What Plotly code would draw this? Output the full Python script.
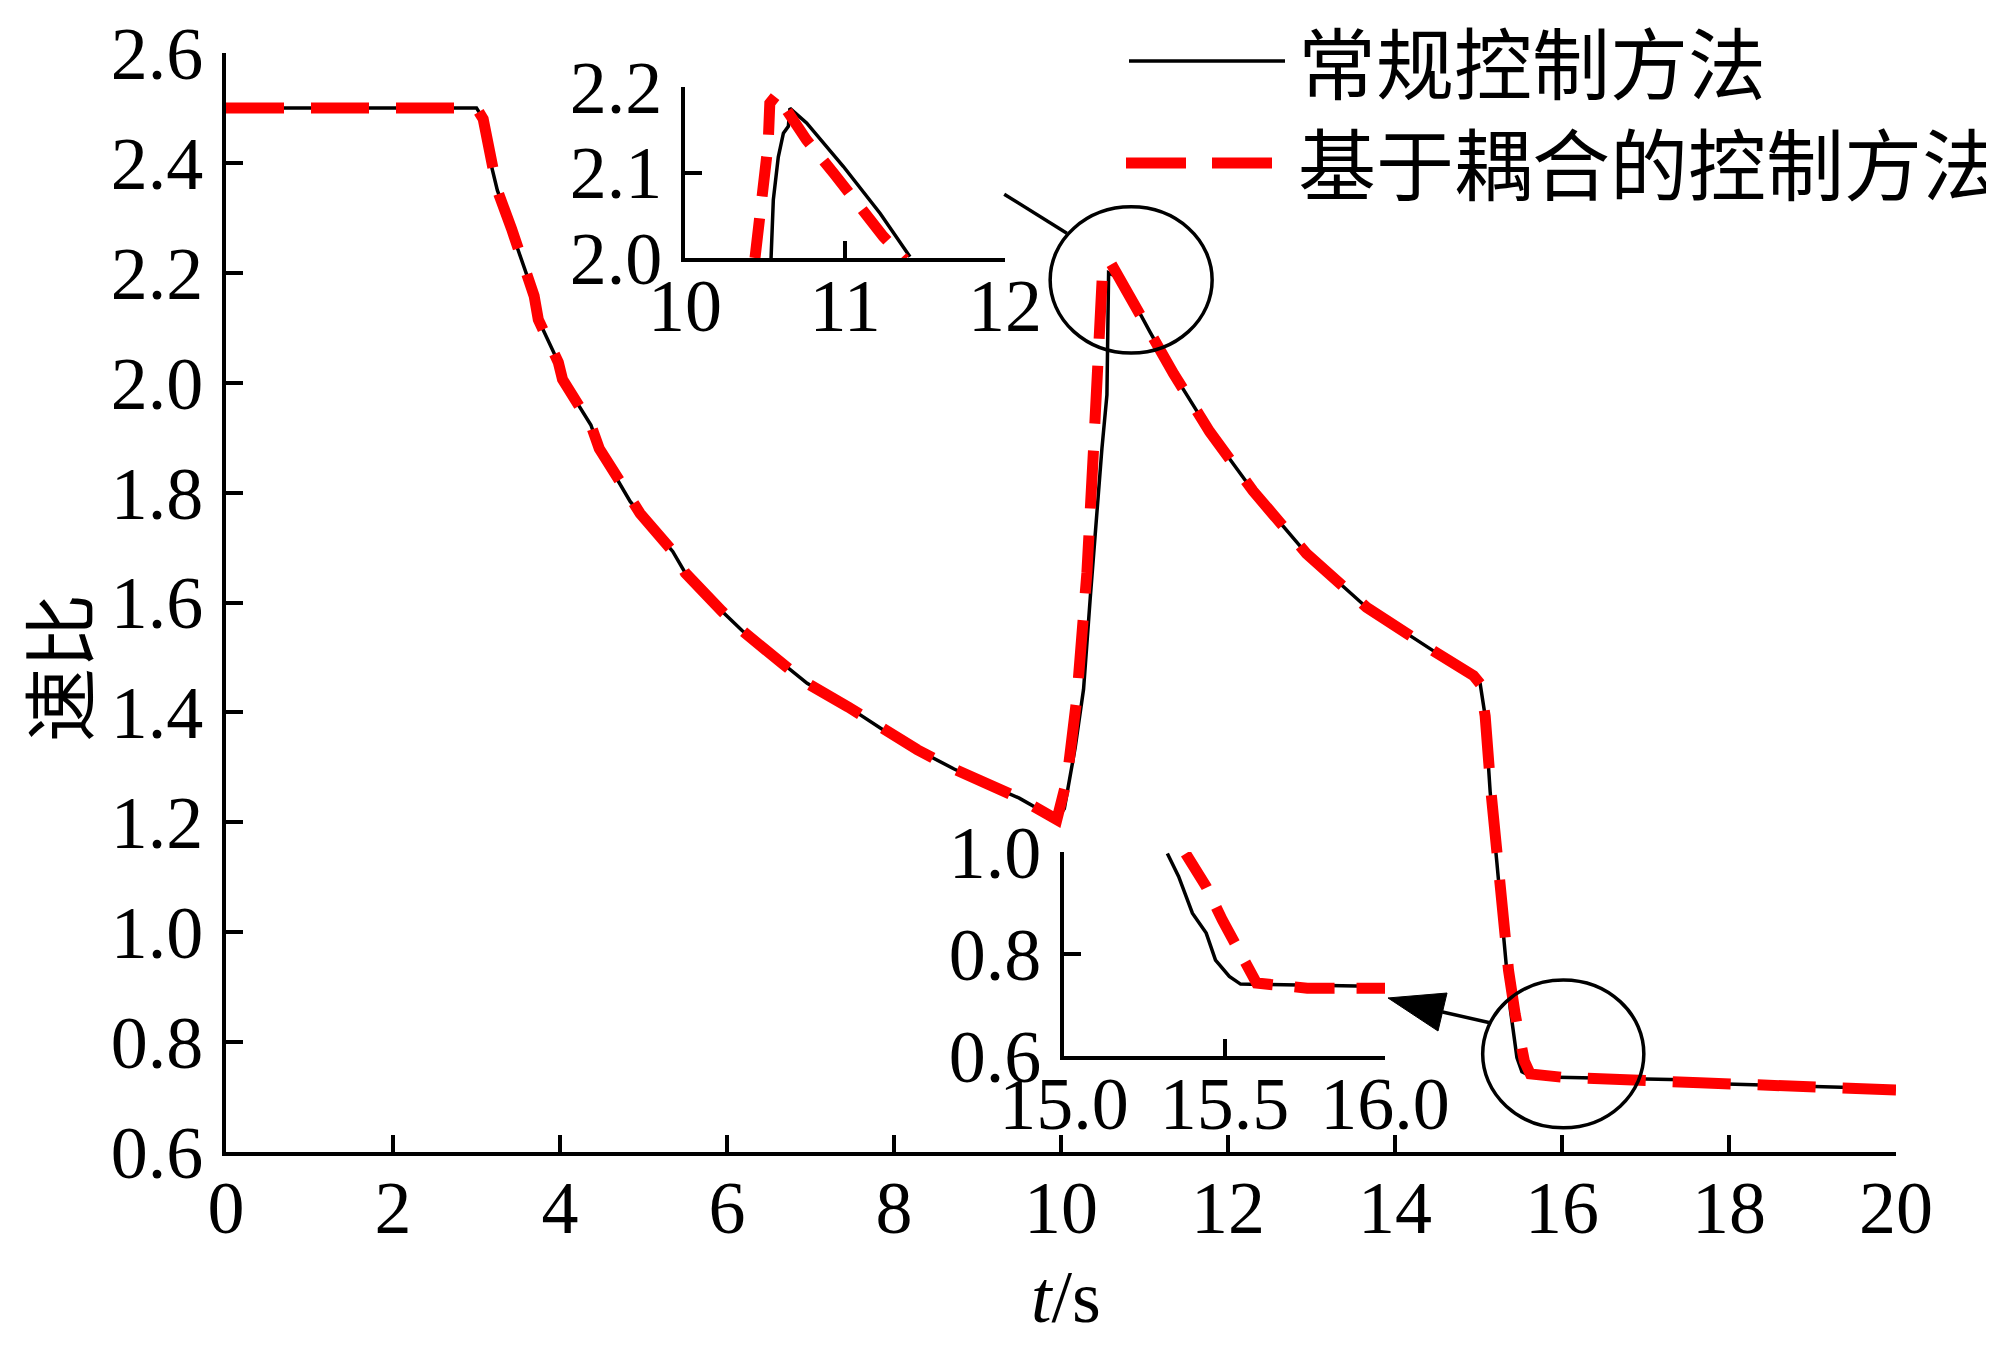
import plotly.graph_objects as go

# ---------------- data ----------------
black_t = [0, 3.0, 3.08, 3.17, 3.25, 3.42, 3.49, 3.69, 3.74, 3.98, 4.03, 4.37, 4.47, 4.84, 4.96,
           5.35, 5.50, 5.94, 6.18, 6.67, 6.96, 7.45, 7.89, 8.28, 8.72, 9.11, 9.50, 9.95, 10.04,
           10.17, 10.27, 10.35, 10.41, 10.49, 10.55, 10.56, 10.57, 10.64, 10.71, 10.91, 11.07,
           11.35, 11.78, 12.30, 12.94, 13.66, 14.46, 14.94, 15.02, 15.08, 15.14, 15.22, 15.29,
           15.38, 15.46, 15.52, 15.64, 17.60, 17.65, 20.0]
black_v = [2.50, 2.50, 2.48, 2.40, 2.35, 2.28, 2.245, 2.158, 2.115, 2.037, 2.006, 1.923, 1.88, 1.784, 1.762,
           1.693, 1.654, 1.584, 1.549, 1.488, 1.453, 1.41, 1.366, 1.332, 1.297, 1.27, 1.244, 1.205, 1.225,
           1.336, 1.442, 1.608, 1.729, 1.88, 1.978, 2.09, 2.20, 2.195, 2.178, 2.136, 2.091,
           2.016, 1.911, 1.803, 1.689, 1.591, 1.512, 1.467, 1.452, 1.393, 1.255, 1.127, 1.009,
           0.861, 0.772, 0.746, 0.737, 0.731, 0.725, 0.715]

red_t = [0, 3.0, 3.08, 3.17, 3.25, 3.42, 3.49, 3.69, 3.74, 3.98, 4.03, 4.37, 4.47, 4.84, 4.96,
         5.35, 5.50, 5.94, 6.18, 6.67, 6.96, 7.45, 7.89, 8.28, 8.72, 9.11, 9.50, 9.95, 10.07,
         10.19, 10.31, 10.39, 10.45, 10.49, 10.50, 10.58, 10.66, 10.83, 11.07,
         11.35, 11.78, 12.30, 12.94, 13.66, 14.46, 14.94, 15.02, 15.08, 15.15, 15.23, 15.31,
         15.36, 15.44, 15.50, 15.55, 15.62, 16.0, 17.65, 20.0]
red_v = [2.50, 2.50, 2.48, 2.40, 2.35, 2.28, 2.245, 2.158, 2.115, 2.037, 2.006, 1.923, 1.88, 1.784, 1.762,
         1.693, 1.654, 1.584, 1.549, 1.488, 1.453, 1.41, 1.366, 1.332, 1.297, 1.27, 1.244, 1.205, 1.277,
         1.427, 1.654, 1.88, 2.069, 2.13, 2.21, 2.222, 2.20, 2.16, 2.091,
         2.016, 1.911, 1.803, 1.689, 1.591, 1.512, 1.467, 1.452, 1.393, 1.255, 1.127, 1.009,
         0.93, 0.85, 0.80, 0.765, 0.742, 0.736, 0.726, 0.713]

# inset 1 (peak zoom)
in1_black_t = [10.5375, 10.552, 10.583, 10.615, 10.646, 10.656, 10.76, 10.99, 11.22, 11.406]
in1_black_v = [1.998, 2.068, 2.118, 2.146, 2.154, 2.175, 2.158, 2.107, 2.052, 2.0015]
in1_red_t = [10.4375, 10.469, 10.50, 10.52, 10.53, 10.573, 10.635, 10.76, 10.93, 11.09, 11.24, 11.375]
in1_red_v = [2.0, 2.048, 2.115, 2.134, 2.181, 2.191, 2.173, 2.138, 2.099, 2.06, 2.025, 1.998]

# inset 2 (drop zoom)
in2_black_t = [15.322, 15.357, 15.40, 15.443, 15.472, 15.515, 15.55, 16.016]
in2_black_v = [0.997, 0.952, 0.880, 0.841, 0.788, 0.756, 0.741, 0.736]
in2_red_t = [15.379, 15.443, 15.493, 15.55, 15.60, 15.758, 16.02]
in2_red_v = [0.997, 0.932, 0.867, 0.795, 0.743, 0.733, 0.733]

x_ticks = [0, 2, 4, 6, 8, 10, 12, 14, 16, 18, 20]
y_ticks = [0.6, 0.8, 1.0, 1.2, 1.4, 1.6, 1.8, 2.0, 2.2, 2.4, 2.6]
in1_x_ticks = [10, 11, 12]
in1_y_ticks = [2.0, 2.1, 2.2]
in2_x_ticks = [15.0, 15.5, 16.0]
in2_y_ticks = [0.6, 0.8, 1.0]

legend_names = ["常规控制方法", "基于耦合的控制方法"]
y_title = "速比"
x_title = "<i>t</i>/s"

# ---------------- figure ----------------
SERIF = "Liberation Serif"
CJK = "Noto Sans CJK SC"
TICKFONT = dict(family=SERIF, size=74, color="black")
BLACK_LINE = dict(color="black", width=3.5)
RED_LINE = dict(color="#ff0000", width=11, dash="58px,27px")

fig = go.Figure()
fig.add_trace(go.Scatter(x=black_t, y=black_v, mode="lines", line=BLACK_LINE,
                         name=legend_names[0], showlegend=False, xaxis="x", yaxis="y"))
fig.add_trace(go.Scatter(x=red_t, y=red_v, mode="lines", line=RED_LINE,
                         name=legend_names[1], showlegend=False, xaxis="x", yaxis="y"))
fig.add_trace(go.Scatter(x=in1_black_t, y=in1_black_v, mode="lines", line=BLACK_LINE,
                         showlegend=False, xaxis="x2", yaxis="y2"))
fig.add_trace(go.Scatter(x=in1_red_t, y=in1_red_v, mode="lines",
                         line=dict(color="#ff0000", width=11, dash="40px,22px"),
                         showlegend=False, xaxis="x2", yaxis="y2"))
fig.add_trace(go.Scatter(x=in2_black_t, y=in2_black_v, mode="lines", line=BLACK_LINE,
                         showlegend=False, xaxis="x3", yaxis="y3"))
fig.add_trace(go.Scatter(x=in2_red_t, y=in2_red_v, mode="lines",
                         line=dict(color="#ff0000", width=11, dash="40px,22px"),
                         showlegend=False, xaxis="x3", yaxis="y3"))

def axis(**kw):
    base = dict(showline=True, linecolor="black", linewidth=4, ticks="inside", ticklen=17,
                tickwidth=3.5, tickcolor="black", showgrid=False, zeroline=False,
                tickfont=TICKFONT, fixedrange=True, automargin=False)
    base.update(kw)
    return base

# page is offset by the 8px body margin: target plot area in page pixels is x 226..1896, y 53..1152
OFF = 8
W, H = 1994 - OFF, 1345 - OFF
PX0, PX1, PY0, PY1 = 226, 1896, 53, 1152
L, T = PX0 - OFF, PY0 - OFF
R, B = 1994 - PX1, 1345 - PY1
PW, PH = PX1 - PX0, PY1 - PY0

def px_x(p):
    return (p - PX0) / PW

def px_y(p):
    return (PY1 - p) / PH

fig.update_layout(
    width=W, height=H,
    margin=dict(l=L, r=R, t=T, b=B, autoexpand=False),
    paper_bgcolor="white", plot_bgcolor="rgba(0,0,0,0)",
    showlegend=False,
    xaxis=axis(domain=[0, 1], range=[0, 20], tickvals=x_ticks, anchor="y", ticklabelstandoff=-12),
    yaxis=axis(domain=[0, 1], range=[0.6, 2.6], tickvals=y_ticks, tickformat=".1f", anchor="x",
               ticklabelstandoff=4),
    xaxis2=axis(domain=[px_x(685), px_x(1005)], range=[10, 12], tickvals=in1_x_ticks, anchor="y2",
                ticklabelstandoff=-20),
    yaxis2=axis(domain=[px_y(258), px_y(87)], range=[2.0, 2.2], tickvals=in1_y_ticks,
                tickformat=".1f", anchor="x2", ticklabelstandoff=4),
    xaxis3=axis(domain=[px_x(1064), px_x(1385)], range=[15, 16], tickvals=in2_x_ticks,
                tickformat=".1f", anchor="y3", ticklabelstandoff=-20),
    yaxis3=axis(domain=[px_y(1056), px_y(852)], range=[0.6, 1.0], tickvals=in2_y_ticks,
                tickformat=".1f", anchor="x3", ticklabelstandoff=4),
)

shapes = [
    # ellipses marking zoomed regions
    dict(type="circle", xref="x", yref="y", x0=9.87, x1=11.81, y0=2.054, y1=2.32,
         line=dict(color="black", width=3.5)),
    dict(type="circle", xref="x", yref="y", x0=15.05, x1=16.98, y0=0.644, y1=0.913,
         line=dict(color="black", width=3.5)),
    # connector to inset 1
    dict(type="line", xref="x", yref="y", x0=9.32, y0=2.343, x1=10.07, y1=2.272,
         line=dict(color="black", width=3.5)),
    # arrow to inset 2
    dict(type="line", xref="x", yref="y", x0=14.569, y0=0.8548, x1=15.15, y1=0.8348,
         line=dict(color="black", width=3.5)),
    dict(type="path", xref="x", yref="y",
         path="M 13.916,0.8803 L 14.623,0.8893 L 14.515,0.8202 Z",
         fillcolor="black", line=dict(color="black", width=1)),
    # legend samples
    dict(type="line", xref="paper", yref="paper", x0=px_x(1129), x1=px_x(1285),
         y0=px_y(61), y1=px_y(61), line=dict(color="black", width=3.5)),
    dict(type="line", xref="paper", yref="paper", x0=px_x(1126), x1=px_x(1272),
         y0=px_y(163), y1=px_y(163), line=dict(color="#ff0000", width=11, dash="60px,26px")),
]
fig.update_layout(shapes=shapes)

annotations = [
    dict(text=legend_names[0], xref="paper", yref="paper", x=px_x(1296), y=px_y(60),
         xanchor="left", yanchor="middle", showarrow=False,
         font=dict(family=CJK, size=78, color="black")),
    dict(text=legend_names[1], xref="paper", yref="paper", x=px_x(1296), y=px_y(161),
         xanchor="left", yanchor="middle", showarrow=False,
         font=dict(family=CJK, size=78, color="black")),
    dict(text=y_title, xref="paper", yref="paper", x=px_x(55), y=px_y(668),
         xanchor="center", yanchor="middle", textangle=-90, showarrow=False,
         font=dict(family=CJK, size=74, color="black")),
    dict(text=x_title, xref="paper", yref="paper", x=px_x(1066), y=px_y(1297),
         xanchor="center", yanchor="middle", showarrow=False,
         font=dict(family=SERIF, size=74, color="black")),
]
fig.update_layout(annotations=annotations)

fig.write_html("out.html")
